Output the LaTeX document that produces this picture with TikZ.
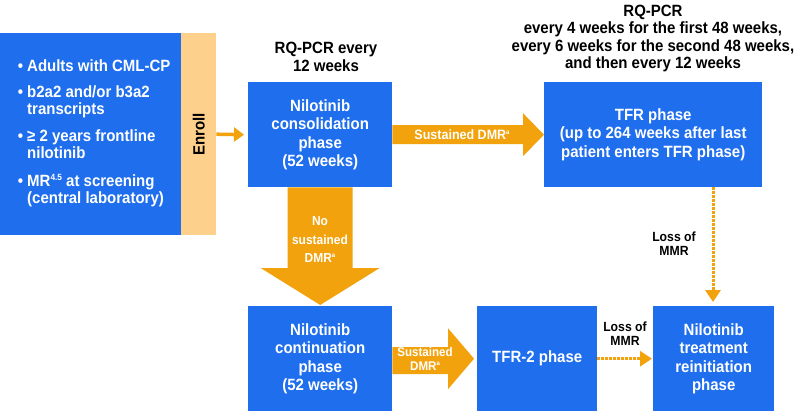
\documentclass[tikz,border=0pt]{standalone}
\usepackage{fontspec}
\usepackage{graphicx}
\setmainfont{Liberation Sans}[FakeStretch=0.92]
\usetikzlibrary{calc,arrows.meta}
\definecolor{bxblue}{RGB}{30,110,238}
\definecolor{arrorange}{RGB}{242,162,12}
\definecolor{enrolltan}{RGB}{253,208,140}
\newcommand\supA{\raisebox{5pt}{\fontsize{6.5}{6.5}\selectfont a}}
\newcommand\supMR{\raisebox{6pt}{\fontsize{9}{9}\selectfont 4.5}}
\begin{document}
\begin{tikzpicture}[x=1pt,y=-1pt,
  phase/.style={fill=bxblue, text=white, font=\fontsize{16.3}{18.5}\selectfont\bfseries,
    align=center, inner sep=0pt, anchor=north west},
  header/.style={text=black, font=\fontsize{16.3}{17.5}\selectfont\bfseries, align=center, inner sep=0pt},
  arrlabel/.style={text=white, font=\fontsize{13.6}{14}\selectfont\bfseries, align=center, inner sep=0pt},
  losslabel/.style={text=black, font=\fontsize{13.3}{14}\selectfont\bfseries, align=center, inner sep=0pt},
  blockarrow/.style={fill=arrorange, draw=none},
  dotarrow/.style={draw=arrorange, line width=3pt, dash pattern=on 2.5pt off 1.5pt,
    -{Triangle[length=12pt,width=15pt]}},
  enrollarrow/.style={draw=arrorange, line width=3.5pt, -{Triangle[length=10pt,width=14pt]}}
]
\useasboundingbox (0,0) rectangle (798,416);

% criteria box and enroll strip
\node[phase, minimum width=181pt, minimum height=202pt,
  font=\fontsize{16.3}{17}\selectfont\bfseries] (crit) at (0,33)
  {\hspace*{7pt}\raisebox{9.5pt}{\begin{tabular}{@{}l@{\hspace{4pt}}l@{}}
   \textbullet & Adults with CML-CP\\[9pt]
   \textbullet & b2a2 and/or b3a2\\
               & transcripts\\[10pt]
   \textbullet & ≥ 2 years frontline\\
               & nilotinib\\[11pt]
   \textbullet & MR\supMR\ at screening\\
               & (central laboratory)
   \end{tabular}}};
\node[fill=enrolltan, minimum width=35pt, minimum height=202pt, inner sep=0pt,
  anchor=north west, font=\fontsize{16.3}{16}\selectfont\bfseries] (enroll) at (181,33)
  {\rotatebox{90}{Enroll}};

% phases
\node[phase, minimum width=144pt, minimum height=105pt] (cons) at (248,82)
  {Nilotinib\\consolidation\\phase\\(52 weeks)};
\node[phase, minimum width=218pt, minimum height=105pt] (tfr) at (544,82)
  {TFR phase\\(up to 264 weeks after last\\patient enters TFR phase)};
\node[phase, minimum width=144pt, minimum height=105pt] (cont) at (248,306)
  {Nilotinib\\continuation\\phase\\(52 weeks)};
\node[phase, minimum width=120pt, minimum height=105pt] (tfrtwo) at (477,306)
  {TFR-2 phase};
\node[phase, minimum width=121pt, minimum height=105pt] (reinit) at (653,306)
  {Nilotinib\\treatment\\reinitiation\\phase};

% headers
\node[header] (hdrA) at (326,57) {RQ-PCR every\\12 weeks};
\node[header] (hdrB) at (653,38.5) {RQ-PCR\\every 4 weeks for the first 48 weeks,\\every 6 weeks for the second 48 weeks,\\and then every 12 weeks};

% enroll arrow
\draw[enrollarrow] (enroll.east) -- ($(cons.west)+(-4,0)$);

% block arrow consolidation -> TFR
\fill[blockarrow] ($(cons.east)+(0,-9.5)$) -- ($(tfr.west)+(-21,-9.5)$) -- ($(tfr.west)+(-21,-21.5)$)
  -- (tfr.west) -- ($(tfr.west)+(-21,21.5)$) -- ($(tfr.west)+(-21,9.5)$) -- ($(cons.east)+(0,9.5)$) -- cycle;
\node[arrlabel] (lblA) at (462,135) {Sustained DMR\supA};

% block arrow consolidation -> continuation
\fill[blockarrow] ($(cons.south)+(-32.5,0)$) -- ($(cons.south)+(32.5,0)$) -- ($(cont.north)+(32.5,-38)$)
  -- ($(cont.north)+(59.5,-38)$) -- ($(cont.north)+(0,-1)$) -- ($(cont.north)+(-59.5,-38)$)
  -- ($(cont.north)+(-32.5,-38)$) -- cycle;
\node[arrlabel, font=\fontsize{13}{18.5}\selectfont\bfseries] (lblB) at (320,240) {No\\sustained\\DMR\supA};

% block arrow continuation -> TFR-2
\fill[blockarrow] ($(cont.east)+(0,-11.5)$) -- ($(tfrtwo.west)+(-29,-11.5)$) -- ($(tfrtwo.west)+(-29,-30.5)$)
  -- ($(tfrtwo.west)+(-3,0)$) -- ($(tfrtwo.west)+(-29,30.5)$) -- ($(tfrtwo.west)+(-29,15.5)$)
  -- ($(cont.east)+(0,15.5)$) -- cycle;
\node[arrlabel, font=\fontsize{12.6}{14}\selectfont\bfseries] (lblC) at (425,359) {Sustained\\DMR\supA};

% dotted arrows
\draw[dotarrow, shorten >=4pt] (tfr.south -| 713,0) -- (reinit.north -| 713,0);
\node[losslabel] (lblD) at (674,244) {Loss of\\MMR};
\draw[dotarrow, shorten >=1pt] (tfrtwo.east) -- (reinit.west);
\node[losslabel] (lblE) at (625,334) {Loss of\\MMR};
\end{tikzpicture}
\end{document}
